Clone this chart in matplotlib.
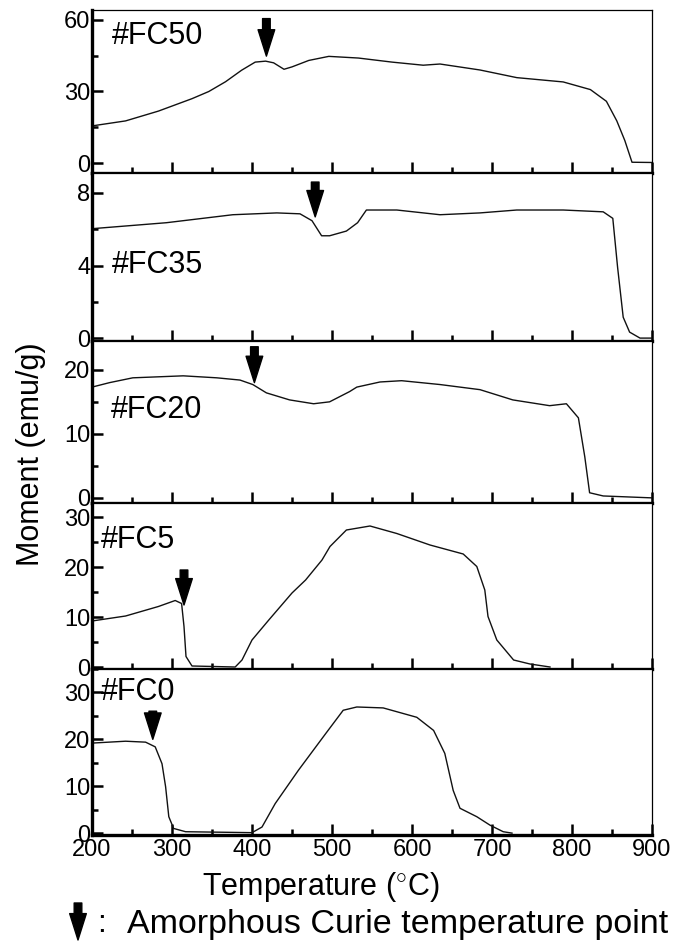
import matplotlib.pyplot as plt
from matplotlib.ticker import MultipleLocator
import numpy as np

plt.rcParams['font.family'] = ['Liberation Sans', 'DejaVu Sans']
plt.rcParams['mathtext.fontset'] = 'custom'
plt.rcParams['mathtext.rm'] = 'Liberation Sans'

# temperature (°C) / moment (emu/g)
fc50_t = [200, 242, 283, 325, 346, 367, 387, 404, 417, 427, 440, 450, 471, 496, 533, 575,
          614, 635, 685, 731, 789, 823, 843, 856, 866, 875, 900]
fc50_m = [15.6, 17.7, 21.8, 27.0, 30.0, 34.1, 38.9, 42.3, 42.7, 42.0, 39.3, 40.3, 43.0, 44.7, 44.0, 42.3,
          41.0, 41.5, 39.0, 35.8, 34.0, 30.8, 25.9, 17.7, 9.5, 0.4, 0.3]

fc35_t = [200, 293, 376, 431, 460, 475, 487, 497, 518, 532, 543, 581, 635, 685, 731, 789,
          839, 851, 857, 864, 872, 885, 900]
fc35_m = [6.03, 6.36, 6.80, 6.90, 6.85, 6.47, 5.64, 5.64, 5.90, 6.36, 7.06, 7.06, 6.80, 6.90, 7.06, 7.06,
          6.96, 6.60, 3.90, 1.15, 0.33, 0.0, 0.0]

fc20_t = [200, 222, 251, 314, 356, 385, 401, 418, 447, 477, 497, 522, 531, 560, 587, 635,
          685, 726, 772, 793, 808, 816, 822, 839, 900]
fc20_m = [17.3, 18.0, 18.75, 19.06, 18.75, 18.4, 17.7, 16.4, 15.3, 14.7, 15.0, 16.6, 17.3, 18.1, 18.3, 17.7,
          16.9, 15.3, 14.4, 14.7, 12.5, 6.4, 0.8, 0.3, 0.0]

fc5_t = [200, 242, 283, 304, 312, 315, 317.5, 325, 379, 387.5, 400, 421, 450, 467, 487.5, 497.5,
         518, 547.5, 581, 622.5, 664, 681, 691, 695, 706, 727, 747.5, 772.5]
fc5_m = [9.2, 10.2, 12.1, 13.3, 12.7, 8.1, 2.1, 0.2, 0.0, 1.4, 5.4, 9.4, 14.8, 17.4, 21.4, 24.1,
         27.4, 28.2, 26.7, 24.4, 22.6, 20.1, 15.4, 10.1, 5.4, 1.4, 0.6, 0.0]

fc0_t = [200, 242, 267, 279, 287.5, 292, 296, 302, 317, 400, 412.5, 429, 458, 492, 514, 531,
         564, 606, 627, 641, 651.5, 660, 681, 697.5, 714, 725]
fc0_m = [19.2, 19.6, 19.4, 18.4, 14.8, 9.9, 3.5, 1.0, 0.3, 0.1, 1.3, 6.3, 13.4, 21.2, 26.2, 26.9,
         26.7, 24.7, 21.9, 17.0, 9.1, 5.3, 3.5, 1.7, 0.3, 0.0]

names = ['#FC50', '#FC35', '#FC20', '#FC5', '#FC0']
temps = [fc50_t, fc35_t, fc20_t, fc5_t, fc0_t]
moments = [fc50_m, fc35_m, fc20_m, fc5_m, fc0_m]

# amorphous Curie points: (temperature, moment at arrow tip, moment at arrow tail)
curie_t = [418, 479, 403, 315, 276]
curie_tip = [44.8, 6.68, 18.0, 12.4, 20.0]
curie_tail = [60.5, 8.6, 23.6, 19.4, 26.0]

y_major = [30, 4, 10, 10, 10]
y_minor = [15, 2, 5, 5, 5]
y_lims = [(-4.1, 64.1), (-0.16, 9.1), (-0.8, 24.5), (-0.4, 32.8), (-0.4, 35.0)]
label_pos = [(0.036, 0.84), (0.036, 0.452), (0.034, 0.574), (0.016, 0.777), (0.016, 0.86)]

fig = plt.figure(figsize=(6.86, 9.47), dpi=100)
gs = fig.add_gridspec(5, 1, height_ratios=[163, 168, 162, 166, 166], hspace=0,
                      left=92 / 686, right=652 / 686, top=1 - 10 / 947, bottom=1 - 835 / 947)

arrow_style = dict(facecolor='black', edgecolor='black', width=5.5,
                   headwidth=12, headlength=19, shrink=0)

axes = []
for i in range(5):
    ax = fig.add_subplot(gs[i])
    axes.append(ax)
    ax.plot(temps[i], moments[i], color='#111111', lw=1.0)
    ax.set_xlim(200, 900)
    ax.set_ylim(*y_lims[i])
    ax.xaxis.set_major_locator(MultipleLocator(100))
    ax.xaxis.set_minor_locator(MultipleLocator(50))
    ax.yaxis.set_major_locator(MultipleLocator(y_major[i]))
    ax.yaxis.set_minor_locator(MultipleLocator(y_minor[i]))
    ax.tick_params(which='both', direction='in', top=False, right=False, width=1.8)
    ax.tick_params(which='major', length=8, labelsize=17, pad=1)
    ax.tick_params(which='minor', length=4.5)
    ax.tick_params(axis='x', which='major', pad=3)
    if i < 4:
        ax.tick_params(axis='x', labelbottom=False)
    for s in ['left', 'bottom']:
        ax.spines[s].set_linewidth(2.4)
    for s in ['top', 'right']:
        ax.spines[s].set_linewidth(0.9)
    ax.text(label_pos[i][0], label_pos[i][1], names[i], transform=ax.transAxes,
            fontsize=22, ha='left', va='center')
    ax.annotate('', xy=(curie_t[i], curie_tip[i]), xytext=(curie_t[i], curie_tail[i]),
                arrowprops=arrow_style, annotation_clip=False)

fig.text(31 / 686, 1 - 454 / 947, 'Moment (emu/g)', rotation=90, fontsize=22,
         ha='center', va='center')
fig.text(321 / 686, 1 - 887 / 947, r'Temperature ($^{\circ}$C)', fontsize=22,
         ha='center', va='center')

# legend line under the chart
axes[-1].annotate('', xy=(78 / 686, 1 - 940 / 947), xytext=(78 / 686, 1 - 903 / 947),
                  xycoords='figure fraction', textcoords='figure fraction',
                  arrowprops=arrow_style, annotation_clip=False)
fig.text(97 / 686, 1 - 924 / 947, ':', fontsize=23, ha='left', va='center')
fig.text(127 / 686, 1 - 924 / 947, 'Amorphous Curie temperature point', fontsize=24.5,
         ha='left', va='center')

fig.savefig('out.png', dpi=100)
